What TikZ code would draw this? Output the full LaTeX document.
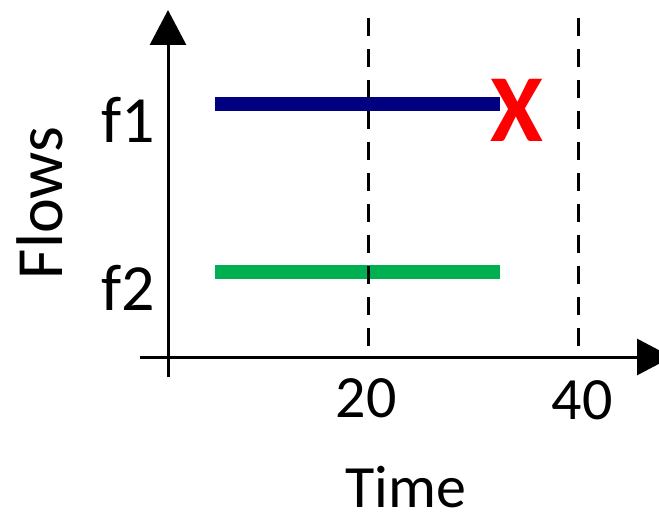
\documentclass[tikz,border=0pt]{standalone}
\usepackage{fontspec}
\setmainfont{Carlito}
\usetikzlibrary{arrows.meta}
\definecolor{flownavy}{RGB}{0,0,128}
\definecolor{flowgreen}{RGB}{0,176,80}
\definecolor{failred}{RGB}{255,0,0}
\tikzset{
  axis/.style={line width=3pt,-{Triangle[length=35pt,width=36pt]}},
  tickline/.style={line width=3pt},
  gridline/.style={line width=3pt,dash pattern=on 18pt off 13pt},
  flowbar/.style={line width=14pt},
  biglabel/.style={inner sep=0pt,anchor=base,font=\fontsize{66}{70}\selectfont},
  numlabel/.style={inner sep=0pt,anchor=base,font=\fontsize{60}{64}\selectfont},
  failmark/.style={inner sep=0pt,anchor=base,text=failred,font=\fontsize{96}{100}\selectfont\bfseries}
}
\begin{document}
\begin{tikzpicture}[x=1pt,y=-1pt]
\useasboundingbox (0,0) rectangle (659,513);
% coordinates
\coordinate (ybot) at (168,377);
\coordinate (ytop) at (168,10);
\coordinate (xl) at (140,357);
\coordinate (xr) at (672,357);
\coordinate (f1s) at (215,104);
\coordinate (f1e) at (500,104);
\coordinate (f2s) at (215,272);
\coordinate (f2e) at (500,272);
\coordinate (g20t) at (368,18);
\coordinate (g20b) at (368,357);
\coordinate (g40t) at (578,18);
\coordinate (g40b) at (578,357);
% bars
\draw[flowbar,flownavy] (f1s) -- (f1e);
\draw[flowbar,flowgreen] (f2s) -- (f2e);
% grid lines
\draw[gridline] (g20t) -- (g20b);
\draw[gridline] (g40t) -- (g40b);
% axes
\draw[axis] (ybot) -- (ytop);
\draw[axis] (xl) -- (xr);
% labels
\node[biglabel] (lf1) at (128,143) {f1};
\node[biglabel] (lf2) at (128,310) {f2};
\node[biglabel,rotate=90] (lflows) at (62,203) {Flows};
\node[numlabel] (l20) at (366,417) {20};
\node[numlabel] (l40) at (582,419) {40};
\node[numlabel] (ltime) at (406,507) {Time};
\node[failmark] (fail) at (517,142) {X};
\end{tikzpicture}
\end{document}
